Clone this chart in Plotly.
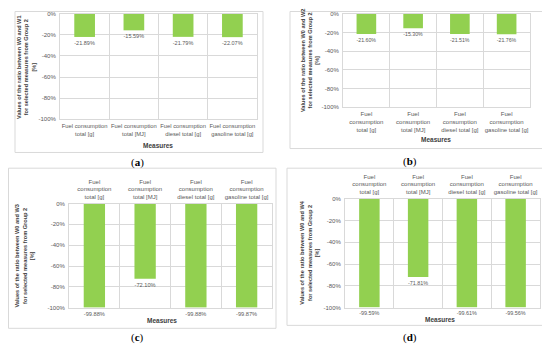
import plotly.graph_objects as go

# page offset of the figure (default body margin) -> work in page pixels
OFF = 8
W, H = 550 - OFF, 349 - OFF

# ---------------- data ----------------
categories_a = ["Fuel consumption<br>total [g]", "Fuel consumption<br>total [MJ]",
                "Fuel consumption<br>diesel total [g]", "Fuel consumption<br>gasoline total [g]"]
categories_bcd = ["Fuel<br>consumption<br>total [g]", "Fuel<br>consumption<br>total [MJ]",
                  "Fuel<br>consumption<br>diesel total [g]", "Fuel<br>consumption<br>gasoline total [g]"]
values_w1 = [-21.89, -15.59, -21.79, -22.07]
values_w2 = [-21.60, -15.30, -21.51, -21.76]
values_w3 = [-99.88, -72.10, -99.88, -99.87]
values_w4 = [-99.59, -71.81, -99.61, -99.56]
y_tickvals = [0, -20, -40, -60, -80, -100]
y_ticktext = ["0%", "-20%", "-40%", "-60%", "-80%", "-100%"]
panel_labels = ["a", "b", "c", "d"]
y_titles = ["Values of the ratio between W0 and W1<br>for selected measures from Group 2<br>[%]",
            "Values of the ratio between W0 and W2<br>for selected measures from Group 2<br>[%]",
            "Values of the ratio between W0 and W3<br>for selected measures from Group 2<br>[%]",
            "Values of the ratio between W0 and W4<br>for selected measures from Group 2<br>[%]"]

FONT = "Liberation Sans Narrow, Liberation Sans, Arial, sans-serif"
GREEN = "#92D050"
GRID = "#D9D9D9"
TXT = "#595959"


def fx(x):
    return (x - OFF) / W


def fy(y):
    return 1 - (y - OFF) / H


# panel geometry in page pixels
panels = [
    dict(cats=categories_a, vals=values_w1, plot=(60, 257, 11, 118), box=(15, 263, 8.5, 152),
         side="bottom", ytitle=(27, 65), meas=(158, 145), lab=(137, 162), cfs=5.8),
    dict(cats=categories_bcd, vals=values_w2, plot=(343, 530, 11, 106), box=(290, 547, 8.5, 148),
         side="bottom", ytitle=(310, 58), meas=(436, 139), lab=(410, 161), cfs=6),
    dict(cats=categories_bcd, vals=values_w3, plot=(69, 272, 204, 310), box=(8.5, 276, 168, 331),
         side="top", ytitle=(25, 257), meas=(162, 323), lab=(137, 340), cfs=6),
    dict(cats=categories_bcd, vals=values_w4, plot=(345, 540, 199, 310), box=(287, 545, 168, 328),
         side="top", ytitle=(310, 254), meas=(440, 322), lab=(410, 340), cfs=6),
]

fig = go.Figure()
shapes = []
annotations = []

for i, p in enumerate(panels):
    n = "" if i == 0 else str(i + 1)
    x0, x1, y0, y1 = p["plot"]
    fig.add_trace(go.Bar(
        x=p["cats"], y=p["vals"], xaxis="x" + n, yaxis="y" + n,
        marker=dict(color=GREEN, line=dict(width=0)), width=0.42,
        text=[f"{v:.2f}%" for v in p["vals"]], textposition="outside",
        textfont=dict(size=6.5, color=TXT, family=FONT), cliponaxis=False,
        showlegend=False,
    ))
    fig.update_layout(**{
        "xaxis" + n: dict(
            domain=[fx(x0), fx(x1)], anchor="y" + n, type="category",
            side=p["side"], tickson="boundaries", showgrid=True, gridcolor=GRID, gridwidth=1,
            ticks="", showline=True, linecolor=GRID, mirror=True, tickangle=0,
            tickfont=dict(size=p["cfs"], color=TXT, family=FONT), ticklabelstandoff=1,
            fixedrange=True,
        ),
        "yaxis" + n: dict(
            domain=[fy(y1), fy(y0)], anchor="x" + n, range=[-100, 0],
            tickvals=y_tickvals, ticktext=y_ticktext, showgrid=True, gridcolor=GRID,
            zeroline=False, showline=True, linecolor=GRID, mirror=True, ticks="",
            tickfont=dict(size=6, color=TXT, family=FONT), ticklabelstandoff=2,
            fixedrange=True,
        ),
    })
    bx0, bx1, by0, by1 = p["box"]
    shapes.append(dict(type="rect", xref="paper", yref="paper",
                       x0=fx(bx0), x1=fx(bx1), y0=fy(by1), y1=fy(by0),
                       line=dict(color=GRID, width=1), layer="below"))
    tx, ty = p["ytitle"]
    annotations.append(dict(xref="paper", yref="paper", x=fx(tx), y=fy(ty),
                            text="<b>" + y_titles[i] + "</b>", textangle=-90, showarrow=False,
                            font=dict(size=5.6, color="#404040", family=FONT),
                            xanchor="center", yanchor="middle"))
    mx, my = p["meas"]
    annotations.append(dict(xref="paper", yref="paper", x=fx(mx), y=fy(my),
                            text="<b>Measures</b>", showarrow=False,
                            font=dict(size=6.5, color="#404040", family=FONT),
                            xanchor="center", yanchor="middle"))
    lx, ly = p["lab"]
    annotations.append(dict(xref="paper", yref="paper", x=fx(lx), y=fy(ly),
                            text="(<b>" + panel_labels[i] + "</b>)", showarrow=False,
                            font=dict(size=11, color="#000000", family="Liberation Serif, DejaVu Serif, serif"),
                            xanchor="center", yanchor="middle"))

fig.update_layout(
    width=W, height=H, autosize=False,
    margin=dict(l=0, r=0, t=0, b=0),
    paper_bgcolor="white", plot_bgcolor="white",
    shapes=shapes, annotations=annotations,
    bargap=0.58,
)

fig.write_html("out.html")
